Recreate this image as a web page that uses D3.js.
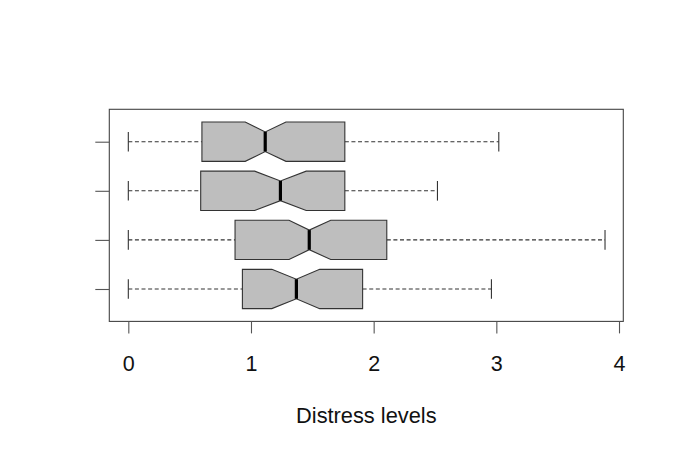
<!DOCTYPE html>
<html>
<head>
<meta charset="utf-8">
<script src="https://cdn.jsdelivr.net/npm/d3@7"></script>
<style>
  html, body { margin: 0; padding: 0; background: #fff; }
  svg { display: block; font-family: "Liberation Sans", Arial, sans-serif; }
</style>
</head>
<body>
<div id="chart"></div>
<script>
/* Notched horizontal boxplots of distress levels, group 1 at the bottom
   (R boxplot style: grey boxes, dashed whiskers, blank group labels). */
var positions = [1, 2, 3, 4];
var whiskerLo = [0, 0, 0, 0];
var q1 = [0.93, 0.87, 0.59, 0.60];
var median = [1.37, 1.475, 1.24, 1.116];
var q3 = [1.91, 2.107, 1.765, 1.765];
var whiskerHi = [2.96, 3.886, 2.52, 3.02];
var notchLo = [1.17, 1.31, 1.03, 0.953];
var notchHi = [1.56, 1.65, 1.45, 1.285];
var xTicks = [0, 1, 2, 3, 4];
var xLabel = "Distress levels";

(function () {
  var W = 680, H = 457;
  var svg = d3.select("#chart").append("svg")
    .attr("width", W).attr("height", H);

  var x = d3.scaleLinear().domain([-0.155, 4.035]).range([109.3, 623.3]);
  var y = d3.scaleLinear().domain([0.34, 4.66]).range([321.4, 109.3]);
  var bw = (y(0) - y(0.8)); // box width of 0.8 group units
  var ink = "#333";

  var rows = positions.map(function (p, i) {
    return { p: p, lo: whiskerLo[i], q1: q1[i], med: median[i], q3: q3[i],
             hi: whiskerHi[i], nlo: notchLo[i], nhi: notchHi[i] };
  });

  var g = svg.append("g");
  var box = g.selectAll("g.box").data(rows).join("g").attr("class", "box");

  // whiskers
  box.append("line")
    .attr("x1", function (d) { return x(d.lo); })
    .attr("x2", function (d) { return x(d.q1); })
    .attr("y1", function (d) { return y(d.p); }).attr("y2", function (d) { return y(d.p); })
    .attr("stroke", ink).attr("stroke-width", 1.1).attr("stroke-dasharray", "4,2.6");
  box.append("line")
    .attr("x1", function (d) { return x(d.q3); })
    .attr("x2", function (d) { return x(d.hi); })
    .attr("y1", function (d) { return y(d.p); }).attr("y2", function (d) { return y(d.p); })
    .attr("stroke", ink).attr("stroke-width", 1.1).attr("stroke-dasharray", "4,2.6");
  // staples
  ["lo", "hi"].forEach(function (k) {
    box.append("line")
      .attr("x1", function (d) { return x(d[k]); })
      .attr("x2", function (d) { return x(d[k]); })
      .attr("y1", function (d) { return y(d.p) - bw / 4; })
      .attr("y2", function (d) { return y(d.p) + bw / 4; })
      .attr("stroke", ink).attr("stroke-width", 1.1);
  });

  // notched box
  box.append("path")
    .attr("d", function (d) {
      var c = y(d.p), t = c - bw / 2, b = c + bw / 2;
      var pts = [
        [x(d.q1), t], [x(d.nlo), t], [x(d.med), c - bw / 4], [x(d.nhi), t],
        [x(d.q3), t], [x(d.q3), b], [x(d.nhi), b], [x(d.med), c + bw / 4],
        [x(d.nlo), b], [x(d.q1), b]
      ];
      return d3.line()(pts) + "Z";
    })
    .attr("fill", "#bebebe").attr("stroke", ink).attr("stroke-width", 1.1);

  // median
  box.append("line")
    .attr("x1", function (d) { return x(d.med); })
    .attr("x2", function (d) { return x(d.med); })
    .attr("y1", function (d) { return y(d.p) - bw / 4; })
    .attr("y2", function (d) { return y(d.p) + bw / 4; })
    .attr("stroke", "#000").attr("stroke-width", 3.2);

  // frame
  svg.append("rect")
    .attr("x", x.range()[0]).attr("y", y.range()[1])
    .attr("width", x.range()[1] - x.range()[0])
    .attr("height", y.range()[0] - y.range()[1])
    .attr("fill", "none").attr("stroke", "#444").attr("stroke-width", 1.1);

  // bottom axis
  var xa = svg.append("g").attr("transform", "translate(0," + y.range()[0] + ")")
    .call(d3.axisBottom(x).tickValues(xTicks).tickSize(12).tickPadding(22)
      .tickFormat(d3.format("d")));
  xa.select(".domain").remove();
  xa.selectAll("line").attr("stroke", "#555").attr("stroke-width", 1.1);
  xa.selectAll("text").attr("font-size", "21.5px").attr("fill", "#111")
    .attr("font-family", "Liberation Sans, Arial, sans-serif");

  // left axis: ticks only, no group names
  var ya = svg.append("g").attr("transform", "translate(" + x.range()[0] + ",0)")
    .call(d3.axisLeft(y).tickValues(positions).tickSize(14).tickFormat(""));
  ya.select(".domain").remove();
  ya.selectAll("line").attr("stroke", "#555").attr("stroke-width", 1.1);

  svg.append("text")
    .attr("x", (x.range()[0] + x.range()[1]) / 2).attr("y", 423)
    .attr("text-anchor", "middle").attr("font-size", "21.8px").attr("fill", "#111")
    .text(xLabel);
})();
</script>
</body>
</html>
